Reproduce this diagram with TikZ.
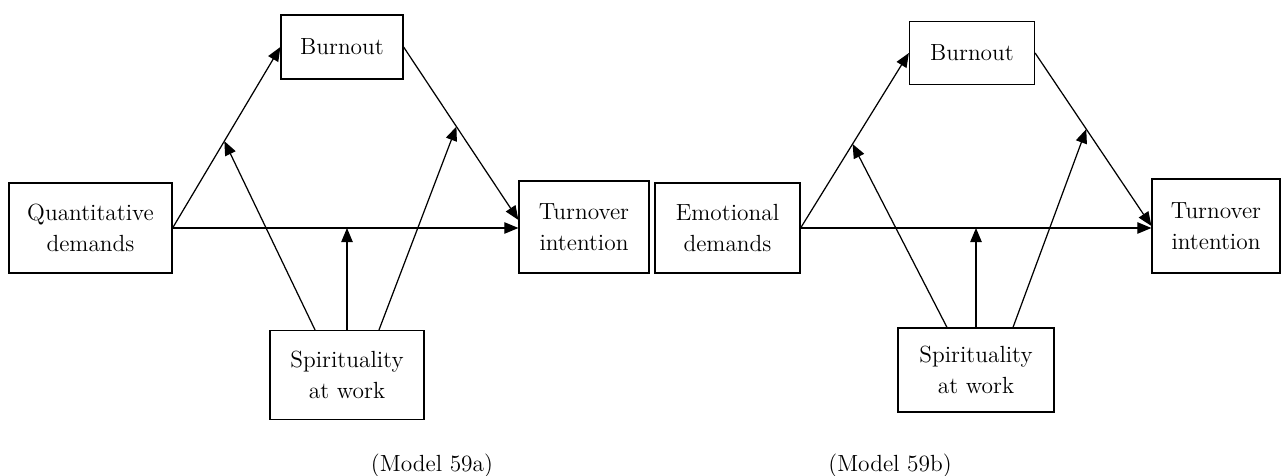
\documentclass[tikz,border=0pt]{standalone}
\usepackage{tikz}
\usetikzlibrary{arrows.meta, positioning, calc}

\begin{document}
\begin{tikzpicture}[
    x=0.02cm, y=-0.02cm,
    box/.style={rectangle, draw=black, line width=0.7pt, fill=white, align=center, font=\fontsize{13.3}{17.5}\selectfont},
    path/.style={draw=black, line width=0.7pt, -{Triangle[length=8pt, width=6.5pt]}},
    caption/.style={font=\fontsize{13.3}{16}\selectfont}
]
\useasboundingbox (0,0) rectangle (1282,476);

% Model 59a
\node[box, minimum width=3.26cm, minimum height=1.8cm] (quantA) at (90.5,228) {Quantitative\\demands};
\node[box, minimum width=2.44cm, minimum height=1.28cm] (burnA) at (342,47) {Burnout};
\node[box, minimum width=2.6cm, minimum height=1.84cm] (turnA) at (584,227) {Turnover\\intention};
\node[box, minimum width=3.08cm, minimum height=1.78cm] (spiritA) at (347,375) {Spirituality\\at work};

\draw[path] (quantA.east) -- (burnA.west);
\draw[path] (burnA.east) -- ([yshift=0.14cm]turnA.west);
\draw[path] (quantA.east) -- (quantA.east -| turnA.west);

\coordinate (modA1) at ($(quantA.east)!0.48!(burnA.west)$);
\coordinate (modA2) at ($(burnA.east)!0.46!([yshift=0.14cm]turnA.west)$);
\coordinate (modA3) at (spiritA.north |- quantA.east);
\draw[path] ([xshift=-0.64cm]spiritA.north) -- (modA1);
\draw[path] ([xshift=0.64cm]spiritA.north) -- (modA2);
\draw[path] (spiritA.north) -- (modA3);

\node[caption] (capA) at (432,466) {(Model 59a)};

% Model 59b
\node[box, minimum width=2.9cm, minimum height=1.8cm] (emoB) at (727.5,228) {Emotional\\demands};
\node[box, minimum width=2.5cm, minimum height=1.26cm] (burnB) at (972,53) {Burnout};
\node[box, minimum width=2.56cm, minimum height=1.88cm] (turnB) at (1216,226) {Turnover\\intention};
\node[box, minimum width=3.12cm, minimum height=1.68cm] (spiritB) at (976,370) {Spirituality\\at work};

\draw[path] (emoB.east) -- (burnB.west);
\draw[path] (burnB.east) -- (turnB.west);
\draw[path] (emoB.east) -- (emoB.east -| turnB.west);

\coordinate (modB1) at ($(emoB.east)!0.48!(burnB.west)$);
\coordinate (modB2) at ($(burnB.east)!0.44!(turnB.west)$);
\coordinate (modB3) at (spiritB.north |- emoB.east);
\draw[path] ([xshift=-0.58cm]spiritB.north) -- (modB1);
\draw[path] ([xshift=0.74cm]spiritB.north) -- (modB2);
\draw[path] (spiritB.north) -- (modB3);

\node[caption] (capB) at (890,466) {(Model 59b)};

\end{tikzpicture}
\end{document}
